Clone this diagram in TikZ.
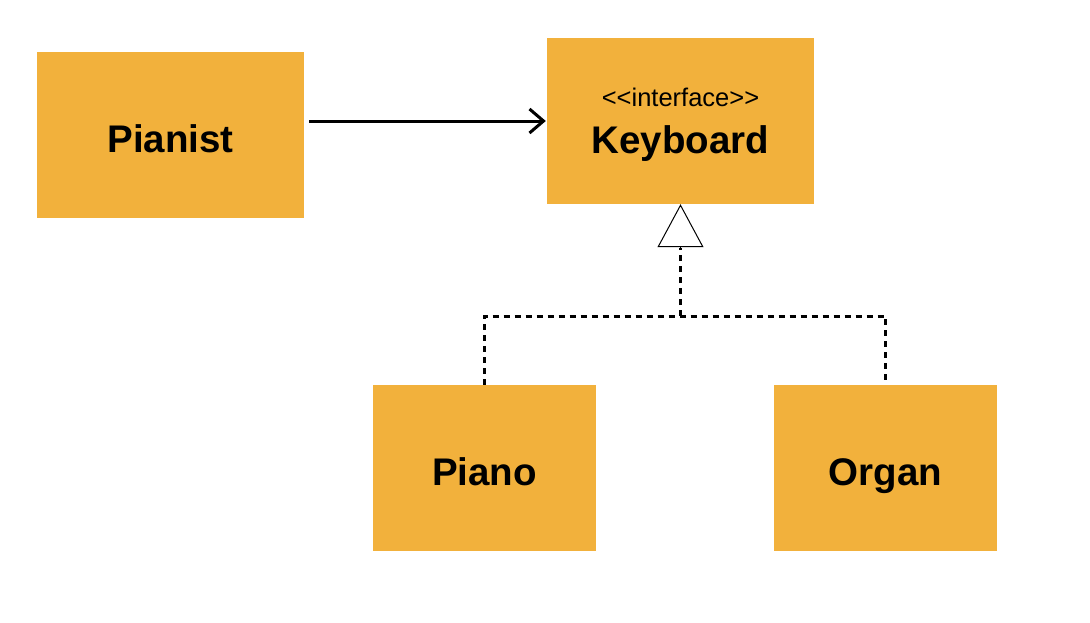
\documentclass[tikz,border=0pt]{standalone}
\usepackage{fontspec}
\setmainfont{Liberation Sans}[Ligatures=NoCommon]
\usetikzlibrary{arrows.meta}
\definecolor{boxfill}{HTML}{F2B13C}
\begin{document}
\begin{tikzpicture}[x=1pt,y=-1pt,
  classbox/.style={rectangle, fill=boxfill, inner sep=0pt, minimum height=166pt, text height=34pt, text depth=0pt, font=\fontsize{38.5}{40}\selectfont\bfseries},
  widebox/.style={classbox, minimum width=267pt},
  narrowbox/.style={classbox, minimum width=223pt},
  assoc/.style={line width=3pt, -{Straight Barb[length=14pt,width=24pt,line width=3pt]}},
  realize/.style={line width=3pt, dash pattern=on 6pt off 5pt},
  inherit/.style={line width=1pt, -{Triangle[open,length=43pt,width=46pt,line width=1pt]}}
]
\useasboundingbox (0,0) rectangle (1090,622);
\node[widebox] (pianist) at (170.5,135) {Pianist};
\node[widebox] (kb) at (680.5,121) {};
\node[font=\fontsize{25.5}{28}\selectfont, anchor=base, inner sep=0pt] (stereo) at (680.5,106) {{<}{<}interface{>}{>}};
\node[font=\fontsize{38.5}{40}\selectfont\bfseries, anchor=base, inner sep=0pt] (kbname) at (680.5,153) {Keyboard};
\node[narrowbox] (piano) at (484.5,468) {Piano};
\node[narrowbox] (organ) at (885.5,468) {Organ};
\coordinate (junction) at (680.5,316);
\coordinate (tribase) at (680.5,248);
\draw[assoc, shorten <=5pt, shorten >=1pt] (pianist.east |- 0,121) -- (kb.west);
\draw[realize] (piano.north) |- (junction) -| (organ.north);
\draw[realize] (junction) -- (tribase);
\draw[inherit] (tribase) -- (kb.south);
\end{tikzpicture}
\end{document}
